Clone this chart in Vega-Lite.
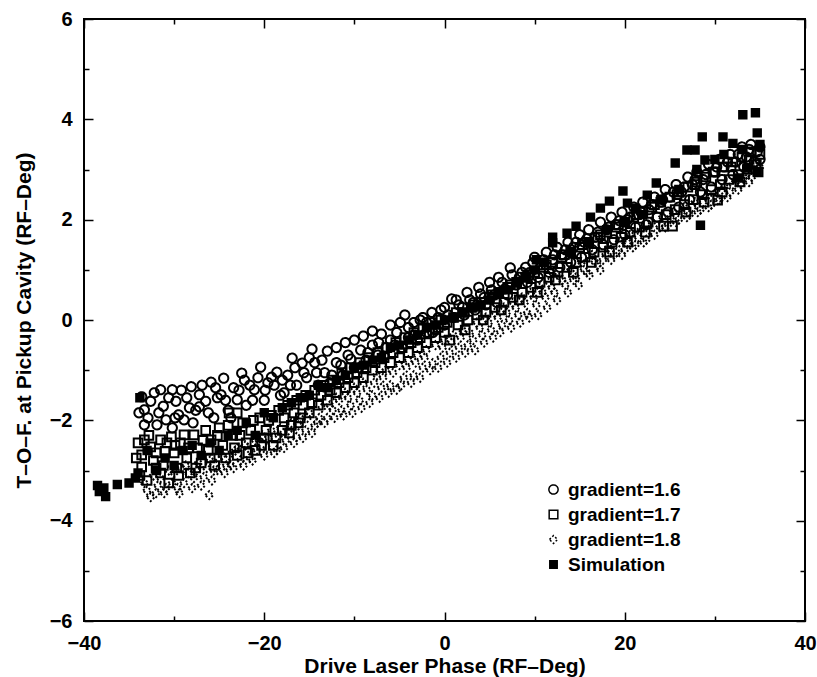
{
  "$schema": "https://vega.github.io/schema/vega-lite/v6.json",
  "autosize": {"type": "none"},
  "width": 721,
  "height": 602,
  "padding": {"left": 84, "top": 19, "right": 12, "bottom": 56},
  "background": "white",
  "config": {
    "view": {"stroke": "black", "strokeWidth": 2},
    "font": "Liberation Sans",
    "axis": {"labelFont": "Liberation Sans", "labelFontSize": 20, "labelFontWeight": "bold", "labelColor": "black", "titleFont": "Liberation Sans", "titleFontSize": 21, "titleFontWeight": "bold", "titleColor": "black", "tickColor": "black", "tickWidth": 1.5, "domain": false, "grid": false, "labelFlush": false, "labelOverlap": false},
    "legend": {"labelFont": "Liberation Sans", "labelFontSize": 19, "labelFontWeight": "bold", "labelColor": "black", "rowPadding": 5, "labelOffset": 5}
  },
  "resolve": {"axis": {"x": "independent", "y": "independent"}},
  "layer": [
    {
      "data": {"values": [
        {"s":"gradient=1.6","x":-33.6,"y":-1.53},{"s":"gradient=1.6","x":-33.3,"y":-1.79},{"s":"gradient=1.6","x":-33.3,"y":-2.09},{"s":"gradient=1.6","x":-32.6,"y":-1.62},{"s":"gradient=1.6","x":-31.9,"y":-2.09},{"s":"gradient=1.6","x":-31.5,"y":-1.39},{"s":"gradient=1.6","x":-31.2,"y":-1.72},{"s":"gradient=1.6","x":-30.9,"y":-1.99},{"s":"gradient=1.6","x":-30.2,"y":-1.39},{"s":"gradient=1.6","x":-30.2,"y":-2.15},{"s":"gradient=1.6","x":-29.8,"y":-1.62},{"s":"gradient=1.6","x":-29.5,"y":-1.89},{"s":"gradient=1.6","x":-28.9,"y":-1.99},{"s":"gradient=1.6","x":-28.6,"y":-1.55},{"s":"gradient=1.6","x":-28.1,"y":-1.33},{"s":"gradient=1.6","x":-27.6,"y":-1.8},{"s":"gradient=1.6","x":-27.2,"y":-1.49},{"s":"gradient=1.6","x":-27.2,"y":-1.73},{"s":"gradient=1.6","x":-26.5,"y":-1.62},{"s":"gradient=1.6","x":-25.9,"y":-1.24},{"s":"gradient=1.6","x":-25.6,"y":-1.95},{"s":"gradient=1.6","x":-25.2,"y":-1.55},{"s":"gradient=1.6","x":-24.8,"y":-1.49},{"s":"gradient=1.6","x":-24.5,"y":-1.16},{"s":"gradient=1.6","x":-24.0,"y":-1.8},{"s":"gradient=1.6","x":-23.4,"y":-1.35},{"s":"gradient=1.6","x":-23.0,"y":-1.59},{"s":"gradient=1.6","x":-22.5,"y":-1.06},{"s":"gradient=1.6","x":-22.0,"y":-1.7},{"s":"gradient=1.6","x":-21.6,"y":-1.3},{"s":"gradient=1.6","x":-21.1,"y":-1.39},{"s":"gradient=1.6","x":-20.4,"y":-0.94},{"s":"gradient=1.6","x":-20.0,"y":-1.6},{"s":"gradient=1.6","x":-19.6,"y":-1.25},{"s":"gradient=1.6","x":-19.2,"y":-1.14},{"s":"gradient=1.6","x":-18.6,"y":-1.04},{"s":"gradient=1.6","x":-18.2,"y":-1.5},{"s":"gradient=1.6","x":-17.8,"y":-1.45},{"s":"gradient=1.6","x":-17.4,"y":-1.1},{"s":"gradient=1.6","x":-16.9,"y":-0.76},{"s":"gradient=1.6","x":-16.4,"y":-1.3},{"s":"gradient=1.6","x":-15.8,"y":-0.86},{"s":"gradient=1.6","x":-15.3,"y":-1.15},{"s":"gradient=1.6","x":-14.7,"y":-0.58},{"s":"gradient=1.6","x":-14.2,"y":-1.05},{"s":"gradient=1.6","x":-13.6,"y":-0.8},{"s":"gradient=1.6","x":-13.0,"y":-0.62},{"s":"gradient=1.6","x":-12.5,"y":-1.1},{"s":"gradient=1.6","x":-12.0,"y":-0.55},{"s":"gradient=1.6","x":-11.5,"y":-0.9},{"s":"gradient=1.6","x":-11.0,"y":-0.45},{"s":"gradient=1.6","x":-10.4,"y":-0.78},{"s":"gradient=1.6","x":-10.0,"y":-0.4},{"s":"gradient=1.6","x":-9.5,"y":-0.95},{"s":"gradient=1.6","x":-9.0,"y":-0.32},{"s":"gradient=1.6","x":-8.5,"y":-0.65},{"s":"gradient=1.6","x":-8.0,"y":-0.22},{"s":"gradient=1.6","x":-7.4,"y":-0.7},{"s":"gradient=1.6","x":-7.0,"y":-0.28},{"s":"gradient=1.6","x":-6.5,"y":-0.55},{"s":"gradient=1.6","x":-6.0,"y":-0.1},{"s":"gradient=1.6","x":-5.5,"y":-0.5},{"s":"gradient=1.6","x":-4.9,"y":-0.05},{"s":"gradient=1.6","x":-4.4,"y":0.1},{"s":"gradient=1.6","x":-4.0,"y":-0.35},{"s":"gradient=1.6","x":-3.4,"y":-0.05},{"s":"gradient=1.6","x":-3.0,"y":-0.4},{"s":"gradient=1.6","x":-2.4,"y":0.05},{"s":"gradient=1.6","x":-2.0,"y":-0.25},{"s":"gradient=1.6","x":-1.4,"y":0.15},{"s":"gradient=1.6","x":-1.0,"y":-0.2},{"s":"gradient=1.6","x":-0.4,"y":0.2},{"s":"gradient=1.6","x":0.0,"y":-0.1},{"s":"gradient=1.6","x":0.8,"y":0.42},{"s":"gradient=1.6","x":1.0,"y":0.05},{"s":"gradient=1.6","x":1.6,"y":0.3},{"s":"gradient=1.6","x":2.2,"y":0.1},{"s":"gradient=1.6","x":2.8,"y":0.4},{"s":"gradient=1.6","x":3.4,"y":0.2},{"s":"gradient=1.6","x":4.0,"y":0.52},{"s":"gradient=1.6","x":4.6,"y":0.3},{"s":"gradient=1.6","x":5.2,"y":0.6},{"s":"gradient=1.6","x":5.8,"y":0.35},{"s":"gradient=1.6","x":6.4,"y":0.75},{"s":"gradient=1.6","x":7.0,"y":0.5},{"s":"gradient=1.6","x":7.3,"y":1.04},{"s":"gradient=1.6","x":8.0,"y":0.7},{"s":"gradient=1.6","x":8.6,"y":0.95},{"s":"gradient=1.6","x":9.2,"y":0.75},{"s":"gradient=1.6","x":9.8,"y":1.14},{"s":"gradient=1.6","x":10.4,"y":0.85},{"s":"gradient=1.6","x":11.0,"y":1.2},{"s":"gradient=1.6","x":11.6,"y":0.95},{"s":"gradient=1.6","x":12.2,"y":1.3},{"s":"gradient=1.6","x":12.8,"y":1.05},{"s":"gradient=1.6","x":13.4,"y":1.4},{"s":"gradient=1.6","x":14.0,"y":1.15},{"s":"gradient=1.6","x":14.6,"y":1.55},{"s":"gradient=1.6","x":15.2,"y":1.25},{"s":"gradient=1.6","x":15.8,"y":1.62},{"s":"gradient=1.6","x":16.4,"y":1.4},{"s":"gradient=1.6","x":17.0,"y":1.75},{"s":"gradient=1.6","x":17.6,"y":1.5},{"s":"gradient=1.6","x":18.2,"y":1.85},{"s":"gradient=1.6","x":18.8,"y":1.6},{"s":"gradient=1.6","x":19.4,"y":1.98},{"s":"gradient=1.6","x":20.0,"y":1.7},{"s":"gradient=1.6","x":20.6,"y":2.05},{"s":"gradient=1.6","x":21.2,"y":1.85},{"s":"gradient=1.6","x":21.8,"y":2.15},{"s":"gradient=1.6","x":22.4,"y":1.9},{"s":"gradient=1.6","x":23.0,"y":2.3},{"s":"gradient=1.6","x":23.6,"y":2.05},{"s":"gradient=1.6","x":24.2,"y":2.4},{"s":"gradient=1.6","x":24.8,"y":2.15},{"s":"gradient=1.6","x":25.4,"y":2.55},{"s":"gradient=1.6","x":26.0,"y":2.25},{"s":"gradient=1.6","x":26.6,"y":2.65},{"s":"gradient=1.6","x":27.2,"y":2.4},{"s":"gradient=1.6","x":27.8,"y":2.8},{"s":"gradient=1.6","x":28.4,"y":2.55},{"s":"gradient=1.6","x":29.0,"y":2.9},{"s":"gradient=1.6","x":29.6,"y":2.65},{"s":"gradient=1.6","x":30.2,"y":3.05},{"s":"gradient=1.6","x":30.8,"y":2.8},{"s":"gradient=1.6","x":31.4,"y":3.15},{"s":"gradient=1.6","x":32.0,"y":2.9},{"s":"gradient=1.6","x":32.6,"y":3.3},{"s":"gradient=1.6","x":33.2,"y":3.05},{"s":"gradient=1.6","x":33.8,"y":3.4},{"s":"gradient=1.6","x":34.4,"y":3.15},{"s":"gradient=1.6","x":35.0,"y":3.45},{"s":"gradient=1.6","x":35.0,"y":3.2},
        {"s":"gradient=1.6","x":-33.9,"y":-1.85},{"s":"gradient=1.6","x":-32.9,"y":-1.95},{"s":"gradient=1.6","x":-32.2,"y":-1.45},{"s":"gradient=1.6","x":-31.7,"y":-1.85},{"s":"gradient=1.6","x":-30.6,"y":-1.55},{"s":"gradient=1.6","x":-29.9,"y":-1.95},{"s":"gradient=1.6","x":-29.2,"y":-1.4},{"s":"gradient=1.6","x":-28.3,"y":-1.75},{"s":"gradient=1.6","x":-27.9,"y":-2.05},{"s":"gradient=1.6","x":-26.9,"y":-1.3},{"s":"gradient=1.6","x":-26.2,"y":-1.85},{"s":"gradient=1.6","x":-25.4,"y":-1.35},{"s":"gradient=1.6","x":-24.3,"y":-1.6},{"s":"gradient=1.6","x":-23.7,"y":-1.95},{"s":"gradient=1.6","x":-22.8,"y":-1.4},{"s":"gradient=1.6","x":-22.2,"y":-1.2},{"s":"gradient=1.6","x":-21.3,"y":-1.6},{"s":"gradient=1.6","x":-20.7,"y":-1.15},{"s":"gradient=1.6","x":-19.9,"y":-1.4},{"s":"gradient=1.6","x":-18.9,"y":-1.3},{"s":"gradient=1.6","x":-18.0,"y":-1.2},{"s":"gradient=1.6","x":-17.1,"y":-1.3},{"s":"gradient=1.6","x":-16.6,"y":-0.95},{"s":"gradient=1.6","x":-15.6,"y":-1.05},{"s":"gradient=1.6","x":-15.0,"y":-0.75},{"s":"gradient=1.6","x":-14.4,"y":-0.85},
        {"s":"gradient=1.6","x":-14.0,"y":-1.3},{"s":"gradient=1.6","x":-13.3,"y":-1.05},{"s":"gradient=1.6","x":-12.7,"y":-1.25},{"s":"gradient=1.6","x":-12.0,"y":-0.85},{"s":"gradient=1.6","x":-11.3,"y":-1.1},{"s":"gradient=1.6","x":-10.7,"y":-0.7},{"s":"gradient=1.6","x":-10.0,"y":-0.95},{"s":"gradient=1.6","x":-9.3,"y":-0.6},{"s":"gradient=1.6","x":-8.7,"y":-0.8},{"s":"gradient=1.6","x":-8.0,"y":-0.5},{"s":"gradient=1.6","x":-7.3,"y":-0.45},{"s":"gradient=1.6","x":-6.7,"y":-0.72},{"s":"gradient=1.6","x":-6.0,"y":-0.4},{"s":"gradient=1.6","x":-5.3,"y":-0.25},{"s":"gradient=1.6","x":-4.7,"y":-0.55},{"s":"gradient=1.6","x":-4.0,"y":-0.15},{"s":"gradient=1.6","x":-3.3,"y":-0.3},{"s":"gradient=1.6","x":-2.7,"y":0.0},{"s":"gradient=1.6","x":-2.0,"y":-0.05},{"s":"gradient=1.6","x":-1.3,"y":-0.25},{"s":"gradient=1.6","x":-0.7,"y":0.05},{"s":"gradient=1.6","x":0.0,"y":0.25},{"s":"gradient=1.6","x":0.4,"y":0.1},{"s":"gradient=1.6","x":1.3,"y":0.4},{"s":"gradient=1.6","x":2.0,"y":0.25},{"s":"gradient=1.6","x":2.5,"y":0.55},{"s":"gradient=1.6","x":3.2,"y":0.35},{"s":"gradient=1.6","x":3.8,"y":0.65},{"s":"gradient=1.6","x":4.4,"y":0.45},{"s":"gradient=1.6","x":5.0,"y":0.75},{"s":"gradient=1.6","x":5.5,"y":0.5},{"s":"gradient=1.6","x":6.0,"y":0.85},{"s":"gradient=1.6","x":6.7,"y":0.62},{"s":"gradient=1.6","x":7.5,"y":0.9},{"s":"gradient=1.6","x":8.3,"y":0.85},{"s":"gradient=1.6","x":9.0,"y":1.05},{"s":"gradient=1.6","x":9.5,"y":0.95},{"s":"gradient=1.6","x":10.0,"y":1.25},{"s":"gradient=1.6","x":10.7,"y":1.1},{"s":"gradient=1.6","x":11.3,"y":1.35},{"s":"gradient=1.6","x":12.0,"y":1.2},{"s":"gradient=1.6","x":12.5,"y":1.45},{"s":"gradient=1.6","x":13.0,"y":1.3},{"s":"gradient=1.6","x":13.7,"y":1.55},{"s":"gradient=1.6","x":14.3,"y":1.45},{"s":"gradient=1.6","x":15.0,"y":1.7},{"s":"gradient=1.6","x":15.5,"y":1.55},{"s":"gradient=1.6","x":16.0,"y":1.8},{"s":"gradient=1.6","x":16.7,"y":1.65},{"s":"gradient=1.6","x":17.3,"y":1.95},{"s":"gradient=1.6","x":18.0,"y":1.8},{"s":"gradient=1.6","x":18.5,"y":2.05},{"s":"gradient=1.6","x":19.0,"y":1.9},{"s":"gradient=1.6","x":19.7,"y":2.15},{"s":"gradient=1.6","x":20.3,"y":2.0},{"s":"gradient=1.6","x":21.0,"y":2.25},{"s":"gradient=1.6","x":21.5,"y":2.1},{"s":"gradient=1.6","x":22.0,"y":2.35},{"s":"gradient=1.6","x":22.7,"y":2.2},{"s":"gradient=1.6","x":23.3,"y":2.45},{"s":"gradient=1.6","x":24.0,"y":2.35},{"s":"gradient=1.6","x":24.5,"y":2.6},{"s":"gradient=1.6","x":25.0,"y":2.45},{"s":"gradient=1.6","x":25.7,"y":2.7},{"s":"gradient=1.6","x":26.3,"y":2.55},{"s":"gradient=1.6","x":27.0,"y":2.85},{"s":"gradient=1.6","x":27.5,"y":2.7},{"s":"gradient=1.6","x":28.0,"y":2.95},{"s":"gradient=1.6","x":28.7,"y":2.8},{"s":"gradient=1.6","x":29.3,"y":3.1},{"s":"gradient=1.6","x":30.0,"y":2.95},{"s":"gradient=1.6","x":30.5,"y":3.2},{"s":"gradient=1.6","x":31.0,"y":3.05},{"s":"gradient=1.6","x":31.7,"y":3.3},{"s":"gradient=1.6","x":32.3,"y":3.15},{"s":"gradient=1.6","x":33.0,"y":3.45},{"s":"gradient=1.6","x":33.5,"y":3.25},{"s":"gradient=1.6","x":34.0,"y":3.5},{"s":"gradient=1.6","x":34.7,"y":3.35},
        {"s":"gradient=1.7","x":-34.0,"y":-2.45},{"s":"gradient=1.7","x":-33.6,"y":-2.69},{"s":"gradient=1.7","x":-33.6,"y":-2.93},{"s":"gradient=1.7","x":-33.3,"y":-2.39},{"s":"gradient=1.7","x":-33.0,"y":-3.2},{"s":"gradient=1.7","x":-32.6,"y":-2.53},{"s":"gradient=1.7","x":-32.3,"y":-2.8},{"s":"gradient=1.7","x":-32.0,"y":-2.95},{"s":"gradient=1.7","x":-31.5,"y":-2.39},{"s":"gradient=1.7","x":-31.5,"y":-3.05},{"s":"gradient=1.7","x":-31.0,"y":-2.62},{"s":"gradient=1.7","x":-30.6,"y":-3.25},{"s":"gradient=1.7","x":-30.3,"y":-2.33},{"s":"gradient=1.7","x":-30.0,"y":-2.65},{"s":"gradient=1.7","x":-29.7,"y":-2.95},{"s":"gradient=1.7","x":-29.3,"y":-2.45},{"s":"gradient=1.7","x":-28.9,"y":-2.29},{"s":"gradient=1.7","x":-28.6,"y":-2.75},{"s":"gradient=1.7","x":-28.2,"y":-3.05},{"s":"gradient=1.7","x":-27.8,"y":-2.29},{"s":"gradient=1.7","x":-27.4,"y":-2.55},{"s":"gradient=1.7","x":-27.0,"y":-2.85},{"s":"gradient=1.7","x":-26.5,"y":-2.2},{"s":"gradient=1.7","x":-26.2,"y":-2.6},{"s":"gradient=1.7","x":-25.9,"y":-2.39},{"s":"gradient=1.7","x":-25.5,"y":-2.9},{"s":"gradient=1.7","x":-25.0,"y":-2.15},{"s":"gradient=1.7","x":-24.6,"y":-2.5},{"s":"gradient=1.7","x":-23.9,"y":-1.85},{"s":"gradient=1.7","x":-23.0,"y":-1.85},{"s":"gradient=1.7","x":-23.5,"y":-2.3},{"s":"gradient=1.7","x":-23.0,"y":-2.7},{"s":"gradient=1.7","x":-22.4,"y":-2.05},{"s":"gradient=1.7","x":-22.0,"y":-2.45},{"s":"gradient=1.7","x":-21.5,"y":-2.2},{"s":"gradient=1.7","x":-21.0,"y":-2.6},{"s":"gradient=1.7","x":-20.5,"y":-1.95},{"s":"gradient=1.7","x":-20.0,"y":-2.35},{"s":"gradient=1.7","x":-19.5,"y":-2.0},{"s":"gradient=1.7","x":-19.0,"y":-2.5},{"s":"gradient=1.7","x":-18.4,"y":-1.8},{"s":"gradient=1.7","x":-18.0,"y":-2.2},{"s":"gradient=1.7","x":-17.4,"y":-1.7},{"s":"gradient=1.7","x":-17.0,"y":-2.1},{"s":"gradient=1.7","x":-16.4,"y":-1.6},{"s":"gradient=1.7","x":-16.0,"y":-1.95},{"s":"gradient=1.7","x":-15.4,"y":-1.5},{"s":"gradient=1.7","x":-15.0,"y":-1.85},{"s":"gradient=1.7","x":-14.4,"y":-1.4},{"s":"gradient=1.7","x":-14.0,"y":-1.7},{"s":"gradient=1.7","x":-13.4,"y":-1.3},{"s":"gradient=1.7","x":-13.0,"y":-1.6},{"s":"gradient=1.7","x":-12.4,"y":-1.2},{"s":"gradient=1.7","x":-12.0,"y":-1.45},{"s":"gradient=1.7","x":-11.4,"y":-1.05},{"s":"gradient=1.7","x":-11.0,"y":-1.35},{"s":"gradient=1.7","x":-10.4,"y":-0.95},{"s":"gradient=1.7","x":-10.0,"y":-1.25},{"s":"gradient=1.7","x":-9.4,"y":-0.85},{"s":"gradient=1.7","x":-9.0,"y":-1.15},{"s":"gradient=1.7","x":-8.4,"y":-0.75},{"s":"gradient=1.7","x":-8.0,"y":-1.0},{"s":"gradient=1.7","x":-7.4,"y":-0.65},{"s":"gradient=1.7","x":-7.0,"y":-0.95},{"s":"gradient=1.7","x":-6.4,"y":-0.55},{"s":"gradient=1.7","x":-6.0,"y":-0.85},{"s":"gradient=1.7","x":-5.4,"y":-0.45},{"s":"gradient=1.7","x":-5.0,"y":-0.75},{"s":"gradient=1.7","x":-4.4,"y":-0.35},{"s":"gradient=1.7","x":-4.0,"y":-0.65},{"s":"gradient=1.7","x":-3.4,"y":-0.25},{"s":"gradient=1.7","x":-3.0,"y":-0.55},{"s":"gradient=1.7","x":-2.4,"y":-0.15},{"s":"gradient=1.7","x":-2.0,"y":-0.45},{"s":"gradient=1.7","x":-1.4,"y":-0.05},{"s":"gradient=1.7","x":-1.0,"y":-0.35},{"s":"gradient=1.7","x":-0.4,"y":0.0},{"s":"gradient=1.7","x":0.0,"y":-0.25},{"s":"gradient=1.7","x":1.0,"y":0.05},{"s":"gradient=1.7","x":1.5,"y":-0.1},{"s":"gradient=1.7","x":2.0,"y":0.15},{"s":"gradient=1.7","x":2.6,"y":0.0},{"s":"gradient=1.7","x":3.0,"y":0.25},{"s":"gradient=1.7","x":3.6,"y":0.1},{"s":"gradient=1.7","x":4.0,"y":0.35},{"s":"gradient=1.7","x":4.6,"y":0.15},{"s":"gradient=1.7","x":5.0,"y":0.45},{"s":"gradient=1.7","x":5.6,"y":0.25},{"s":"gradient=1.7","x":6.0,"y":0.55},{"s":"gradient=1.7","x":6.6,"y":0.35},{"s":"gradient=1.7","x":7.0,"y":0.65},{"s":"gradient=1.7","x":7.6,"y":0.45},{"s":"gradient=1.7","x":8.0,"y":0.75},{"s":"gradient=1.7","x":8.6,"y":0.55},{"s":"gradient=1.7","x":9.0,"y":0.85},{"s":"gradient=1.7","x":9.6,"y":0.65},{"s":"gradient=1.7","x":10.0,"y":0.95},{"s":"gradient=1.7","x":10.6,"y":0.75},{"s":"gradient=1.7","x":11.0,"y":1.05},{"s":"gradient=1.7","x":11.6,"y":0.85},{"s":"gradient=1.7","x":12.0,"y":1.15},{"s":"gradient=1.7","x":12.6,"y":0.95},{"s":"gradient=1.7","x":13.0,"y":1.25},{"s":"gradient=1.7","x":13.6,"y":1.05},{"s":"gradient=1.7","x":14.0,"y":1.35},{"s":"gradient=1.7","x":14.6,"y":1.15},{"s":"gradient=1.7","x":15.0,"y":1.45},{"s":"gradient=1.7","x":15.6,"y":1.25},{"s":"gradient=1.7","x":16.0,"y":1.55},{"s":"gradient=1.7","x":16.6,"y":1.35},{"s":"gradient=1.7","x":17.0,"y":1.65},{"s":"gradient=1.7","x":17.6,"y":1.45},{"s":"gradient=1.7","x":18.0,"y":1.75},{"s":"gradient=1.7","x":18.6,"y":1.55},{"s":"gradient=1.7","x":19.0,"y":1.85},{"s":"gradient=1.7","x":19.6,"y":1.65},{"s":"gradient=1.7","x":20.0,"y":1.95},{"s":"gradient=1.7","x":20.6,"y":1.75},{"s":"gradient=1.7","x":21.0,"y":2.05},{"s":"gradient=1.7","x":21.6,"y":1.85},{"s":"gradient=1.7","x":22.0,"y":2.15},{"s":"gradient=1.7","x":22.6,"y":1.95},{"s":"gradient=1.7","x":23.0,"y":2.25},{"s":"gradient=1.7","x":23.6,"y":2.05},{"s":"gradient=1.7","x":24.3,"y":1.87},{"s":"gradient=1.7","x":25.3,"y":1.87},{"s":"gradient=1.7","x":24.0,"y":2.35},{"s":"gradient=1.7","x":25.0,"y":2.45},{"s":"gradient=1.7","x":25.6,"y":2.2},{"s":"gradient=1.7","x":26.0,"y":2.55},{"s":"gradient=1.7","x":26.6,"y":2.3},{"s":"gradient=1.7","x":27.0,"y":2.65},{"s":"gradient=1.7","x":27.6,"y":2.4},{"s":"gradient=1.7","x":28.0,"y":2.75},{"s":"gradient=1.7","x":28.6,"y":2.5},{"s":"gradient=1.7","x":29.0,"y":2.85},{"s":"gradient=1.7","x":29.6,"y":2.6},{"s":"gradient=1.7","x":30.0,"y":2.95},{"s":"gradient=1.7","x":30.3,"y":2.39},{"s":"gradient=1.7","x":30.6,"y":2.7},{"s":"gradient=1.7","x":31.0,"y":3.05},{"s":"gradient=1.7","x":31.6,"y":2.8},{"s":"gradient=1.7","x":32.0,"y":3.15},{"s":"gradient=1.7","x":32.6,"y":2.9},{"s":"gradient=1.7","x":33.0,"y":3.25},{"s":"gradient=1.7","x":33.6,"y":3.0},{"s":"gradient=1.7","x":34.0,"y":3.35},{"s":"gradient=1.7","x":34.6,"y":3.1},{"s":"gradient=1.7","x":35.0,"y":3.3},
        {"s":"gradient=1.7","x":-34.2,"y":-2.75},{"s":"gradient=1.7","x":-33.8,"y":-3.1},{"s":"gradient=1.7","x":-32.8,"y":-2.3},{"s":"gradient=1.7","x":-32.0,"y":-2.65},{"s":"gradient=1.7","x":-31.2,"y":-2.9},{"s":"gradient=1.7","x":-30.8,"y":-2.45},{"s":"gradient=1.7","x":-29.9,"y":-2.5},{"s":"gradient=1.7","x":-29.5,"y":-3.1},{"s":"gradient=1.7","x":-28.4,"y":-2.55},{"s":"gradient=1.7","x":-27.6,"y":-2.95},{"s":"gradient=1.7","x":-26.8,"y":-2.4},{"s":"gradient=1.7","x":-26.0,"y":-2.75},{"s":"gradient=1.7","x":-25.2,"y":-2.3},{"s":"gradient=1.7","x":-24.3,"y":-2.75},{"s":"gradient=1.7","x":-24.0,"y":-2.1},{"s":"gradient=1.7","x":-23.3,"y":-2.55},{"s":"gradient=1.7","x":-22.7,"y":-2.3},{"s":"gradient=1.7","x":-21.8,"y":-2.65},{"s":"gradient=1.7","x":-21.2,"y":-2.0},{"s":"gradient=1.7","x":-20.3,"y":-2.5},{"s":"gradient=1.7","x":-19.8,"y":-2.2},{"s":"gradient=1.7","x":-19.2,"y":-1.9},{"s":"gradient=1.7","x":-18.7,"y":-2.35},{"s":"gradient=1.7","x":-17.8,"y":-1.95},{"s":"gradient=1.7","x":-17.2,"y":-2.25},{"s":"gradient=1.7","x":-16.7,"y":-1.85},{"s":"gradient=1.7","x":-16.2,"y":-2.05},{"s":"gradient=1.7","x":-15.7,"y":-1.7},{"s":"gradient=1.7","x":-14.7,"y":-1.65},{"s":"gradient=1.7","x":-13.7,"y":-1.5},{"s":"gradient=1.7","x":-12.7,"y":-1.4},{"s":"gradient=1.7","x":-11.7,"y":-1.25},{"s":"gradient=1.7","x":-10.7,"y":-1.15},{"s":"gradient=1.7","x":-9.7,"y":-1.05},{"s":"gradient=1.7","x":-8.7,"y":-0.95},{"s":"gradient=1.7","x":-7.7,"y":-0.85},{"s":"gradient=1.7","x":-6.7,"y":-0.75},{"s":"gradient=1.7","x":-5.7,"y":-0.65},{"s":"gradient=1.7","x":-4.7,"y":-0.55},{"s":"gradient=1.7","x":-3.7,"y":-0.45},{"s":"gradient=1.7","x":-2.7,"y":-0.35},{"s":"gradient=1.7","x":-1.7,"y":-0.25},{"s":"gradient=1.7","x":-0.7,"y":-0.15},{"s":"gradient=1.7","x":0.3,"y":-0.05},{"s":"gradient=1.7","x":0.6,"y":-0.4},{"s":"gradient=1.7","x":1.3,"y":0.15},{"s":"gradient=1.7","x":2.3,"y":-0.2},{"s":"gradient=1.7","x":3.3,"y":0.3},{"s":"gradient=1.7","x":4.3,"y":0.0},{"s":"gradient=1.7","x":5.3,"y":0.5},{"s":"gradient=1.7","x":6.3,"y":0.2},{"s":"gradient=1.7","x":7.3,"y":0.7},{"s":"gradient=1.7","x":8.3,"y":0.4},{"s":"gradient=1.7","x":9.3,"y":0.9},{"s":"gradient=1.7","x":10.3,"y":0.55},{"s":"gradient=1.7","x":11.3,"y":1.1},{"s":"gradient=1.7","x":12.3,"y":0.8},{"s":"gradient=1.7","x":13.3,"y":1.3},{"s":"gradient=1.7","x":14.3,"y":0.95},{"s":"gradient=1.7","x":15.3,"y":1.5},{"s":"gradient=1.7","x":16.3,"y":1.15},{"s":"gradient=1.7","x":17.3,"y":1.7},{"s":"gradient=1.7","x":18.3,"y":1.35},{"s":"gradient=1.7","x":19.3,"y":1.9},{"s":"gradient=1.7","x":20.3,"y":1.55},{"s":"gradient=1.7","x":21.3,"y":2.1},{"s":"gradient=1.7","x":22.3,"y":1.75},{"s":"gradient=1.7","x":23.3,"y":2.3},{"s":"gradient=1.7","x":24.6,"y":2.1},{"s":"gradient=1.7","x":25.8,"y":2.5},{"s":"gradient=1.7","x":26.8,"y":2.15},{"s":"gradient=1.7","x":27.8,"y":2.7},{"s":"gradient=1.7","x":28.8,"y":2.35},{"s":"gradient=1.7","x":29.8,"y":2.95},{"s":"gradient=1.7","x":30.8,"y":2.55},{"s":"gradient=1.7","x":31.8,"y":3.05},{"s":"gradient=1.7","x":32.8,"y":2.75},{"s":"gradient=1.7","x":33.8,"y":3.2},{"s":"gradient=1.7","x":34.8,"y":2.95},
        {"s":"gradient=1.8","x":-33.0,"y":-3.4},{"s":"gradient=1.8","x":-32.6,"y":-3.53},{"s":"gradient=1.8","x":-32.3,"y":-3.1},{"s":"gradient=1.8","x":-31.8,"y":-3.3},{"s":"gradient=1.8","x":-31.1,"y":-3.45},{"s":"gradient=1.8","x":-30.6,"y":-3.0},{"s":"gradient=1.8","x":-30.2,"y":-3.25},{"s":"gradient=1.8","x":-29.6,"y":-3.35},{"s":"gradient=1.8","x":-29.2,"y":-2.95},{"s":"gradient=1.8","x":-28.9,"y":-3.25},{"s":"gradient=1.8","x":-28.4,"y":-3.05},{"s":"gradient=1.8","x":-27.8,"y":-3.15},{"s":"gradient=1.8","x":-27.3,"y":-2.85},{"s":"gradient=1.8","x":-26.7,"y":-3.13},{"s":"gradient=1.8","x":-26.1,"y":-3.49},{"s":"gradient=1.8","x":-26.0,"y":-2.8},{"s":"gradient=1.8","x":-25.6,"y":-3.0},{"s":"gradient=1.8","x":-25.2,"y":-2.99},{"s":"gradient=1.8","x":-24.7,"y":-2.7},{"s":"gradient=1.8","x":-24.2,"y":-2.9},{"s":"gradient=1.8","x":-23.7,"y":-2.89},{"s":"gradient=1.8","x":-23.2,"y":-2.6},{"s":"gradient=1.8","x":-22.6,"y":-2.79},{"s":"gradient=1.8","x":-22.1,"y":-2.5},{"s":"gradient=1.8","x":-21.6,"y":-2.75},{"s":"gradient=1.8","x":-21.0,"y":-2.4},{"s":"gradient=1.8","x":-20.8,"y":-2.59},{"s":"gradient=1.8","x":-20.2,"y":-2.3},{"s":"gradient=1.8","x":-19.7,"y":-2.55},{"s":"gradient=1.8","x":-19.2,"y":-2.2},{"s":"gradient=1.8","x":-18.6,"y":-2.59},{"s":"gradient=1.8","x":-18.2,"y":-2.15},{"s":"gradient=1.8","x":-17.6,"y":-2.4},{"s":"gradient=1.8","x":-17.0,"y":-2.05},{"s":"gradient=1.8","x":-16.4,"y":-2.33},{"s":"gradient=1.8","x":-16.0,"y":-1.95},{"s":"gradient=1.8","x":-15.4,"y":-2.2},{"s":"gradient=1.8","x":-15.0,"y":-1.85},{"s":"gradient=1.8","x":-14.4,"y":-2.1},{"s":"gradient=1.8","x":-14.1,"y":-2.05},{"s":"gradient=1.8","x":-13.6,"y":-1.75},{"s":"gradient=1.8","x":-13.0,"y":-1.95},{"s":"gradient=1.8","x":-12.4,"y":-1.79},{"s":"gradient=1.8","x":-12.0,"y":-1.55},{"s":"gradient=1.8","x":-11.4,"y":-1.8},{"s":"gradient=1.8","x":-11.0,"y":-1.45},{"s":"gradient=1.8","x":-10.4,"y":-1.7},{"s":"gradient=1.8","x":-10.0,"y":-1.35},{"s":"gradient=1.8","x":-9.4,"y":-1.6},{"s":"gradient=1.8","x":-9.0,"y":-1.25},{"s":"gradient=1.8","x":-8.6,"y":-1.39},{"s":"gradient=1.8","x":-8.0,"y":-1.5},{"s":"gradient=1.8","x":-7.5,"y":-1.1},{"s":"gradient=1.8","x":-7.0,"y":-1.35},{"s":"gradient=1.8","x":-6.5,"y":-1.0},{"s":"gradient=1.8","x":-6.0,"y":-1.3},{"s":"gradient=1.8","x":-5.3,"y":-1.39},{"s":"gradient=1.8","x":-5.0,"y":-0.9},{"s":"gradient=1.8","x":-4.5,"y":-1.15},{"s":"gradient=1.8","x":-4.0,"y":-0.8},{"s":"gradient=1.8","x":-3.4,"y":-1.1},{"s":"gradient=1.8","x":-3.0,"y":-0.7},{"s":"gradient=1.8","x":-2.4,"y":-0.95},{"s":"gradient=1.8","x":-2.0,"y":-0.6},{"s":"gradient=1.8","x":-1.3,"y":-0.86},{"s":"gradient=1.8","x":-1.0,"y":-0.5},{"s":"gradient=1.8","x":-0.4,"y":-0.75},{"s":"gradient=1.8","x":0.0,"y":-0.4},{"s":"gradient=1.8","x":0.6,"y":-0.65},{"s":"gradient=1.8","x":1.0,"y":-0.3},{"s":"gradient=1.8","x":1.6,"y":-0.55},{"s":"gradient=1.8","x":2.0,"y":-0.2},{"s":"gradient=1.8","x":2.6,"y":-0.5},{"s":"gradient=1.8","x":3.2,"y":-0.4},{"s":"gradient=1.8","x":3.6,"y":-0.05},{"s":"gradient=1.8","x":4.2,"y":-0.3},{"s":"gradient=1.8","x":4.6,"y":0.05},{"s":"gradient=1.8","x":5.2,"y":-0.2},{"s":"gradient=1.8","x":5.6,"y":0.15},{"s":"gradient=1.8","x":6.2,"y":-0.24},{"s":"gradient=1.8","x":6.6,"y":0.25},{"s":"gradient=1.8","x":7.2,"y":0.0},{"s":"gradient=1.8","x":7.6,"y":0.35},{"s":"gradient=1.8","x":8.2,"y":0.1},{"s":"gradient=1.8","x":8.6,"y":0.45},{"s":"gradient=1.8","x":9.2,"y":0.14},{"s":"gradient=1.8","x":9.6,"y":0.55},{"s":"gradient=1.8","x":10.2,"y":0.3},{"s":"gradient=1.8","x":10.6,"y":0.65},{"s":"gradient=1.8","x":11.2,"y":0.45},{"s":"gradient=1.8","x":11.6,"y":0.75},{"s":"gradient=1.8","x":12.0,"y":0.94},{"s":"gradient=1.8","x":12.2,"y":0.55},{"s":"gradient=1.8","x":12.8,"y":0.85},{"s":"gradient=1.8","x":13.4,"y":0.7},{"s":"gradient=1.8","x":14.0,"y":1.0},{"s":"gradient=1.8","x":14.6,"y":0.85},{"s":"gradient=1.8","x":15.2,"y":1.15},{"s":"gradient=1.8","x":15.8,"y":0.95},{"s":"gradient=1.8","x":16.4,"y":1.3},{"s":"gradient=1.8","x":17.0,"y":1.1},{"s":"gradient=1.8","x":17.6,"y":1.2},{"s":"gradient=1.8","x":18.2,"y":1.45},{"s":"gradient=1.8","x":18.8,"y":1.3},{"s":"gradient=1.8","x":19.4,"y":1.55},{"s":"gradient=1.8","x":20.0,"y":1.4},{"s":"gradient=1.8","x":20.6,"y":1.7},{"s":"gradient=1.8","x":21.2,"y":1.5},{"s":"gradient=1.8","x":21.8,"y":1.8},{"s":"gradient=1.8","x":22.4,"y":1.6},{"s":"gradient=1.8","x":23.0,"y":1.95},{"s":"gradient=1.8","x":23.9,"y":1.85},{"s":"gradient=1.8","x":24.2,"y":2.05},{"s":"gradient=1.8","x":24.8,"y":1.9},{"s":"gradient=1.8","x":25.4,"y":2.15},{"s":"gradient=1.8","x":26.0,"y":2.0},{"s":"gradient=1.8","x":26.6,"y":2.25},{"s":"gradient=1.8","x":27.2,"y":2.1},{"s":"gradient=1.8","x":27.8,"y":2.35},{"s":"gradient=1.8","x":28.4,"y":2.2},{"s":"gradient=1.8","x":29.0,"y":2.45},{"s":"gradient=1.8","x":29.6,"y":2.3},{"s":"gradient=1.8","x":30.3,"y":2.39},{"s":"gradient=1.8","x":30.8,"y":2.6},{"s":"gradient=1.8","x":31.4,"y":2.45},{"s":"gradient=1.8","x":32.0,"y":2.7},{"s":"gradient=1.8","x":32.6,"y":2.6},{"s":"gradient=1.8","x":33.2,"y":2.85},{"s":"gradient=1.8","x":33.8,"y":2.75},{"s":"gradient=1.8","x":34.4,"y":2.95},{"s":"gradient=1.8","x":35.0,"y":3.05},
        {"s":"gradient=1.8","x":-33.3,"y":-3.25},{"s":"gradient=1.8","x":-32.0,"y":-3.45},{"s":"gradient=1.8","x":-31.5,"y":-3.15},{"s":"gradient=1.8","x":-30.9,"y":-3.35},{"s":"gradient=1.8","x":-30.0,"y":-3.05},{"s":"gradient=1.8","x":-29.4,"y":-3.45},{"s":"gradient=1.8","x":-28.7,"y":-2.9},{"s":"gradient=1.8","x":-28.0,"y":-3.35},{"s":"gradient=1.8","x":-27.5,"y":-3.0},{"s":"gradient=1.8","x":-27.0,"y":-3.3},{"s":"gradient=1.8","x":-26.4,"y":-2.95},{"s":"gradient=1.8","x":-25.8,"y":-3.2},{"s":"gradient=1.8","x":-25.0,"y":-2.8},{"s":"gradient=1.8","x":-24.4,"y":-3.05},{"s":"gradient=1.8","x":-23.9,"y":-2.7},{"s":"gradient=1.8","x":-23.4,"y":-2.95},{"s":"gradient=1.8","x":-22.9,"y":-2.55},{"s":"gradient=1.8","x":-22.3,"y":-2.9},{"s":"gradient=1.8","x":-21.8,"y":-2.55},{"s":"gradient=1.8","x":-21.3,"y":-2.8},{"s":"gradient=1.8","x":-20.6,"y":-2.4},{"s":"gradient=1.8","x":-20.0,"y":-2.7},{"s":"gradient=1.8","x":-19.5,"y":-2.35},{"s":"gradient=1.8","x":-18.9,"y":-2.65},{"s":"gradient=1.8","x":-18.4,"y":-2.3},{"s":"gradient=1.8","x":-17.8,"y":-2.55},{"s":"gradient=1.8","x":-17.3,"y":-2.2},{"s":"gradient=1.8","x":-16.7,"y":-2.45},{"s":"gradient=1.8","x":-16.2,"y":-2.1},{"s":"gradient=1.8","x":-15.7,"y":-2.35},{"s":"gradient=1.8","x":-15.2,"y":-1.95},{"s":"gradient=1.8","x":-14.7,"y":-2.25},{"s":"gradient=1.8","x":-13.9,"y":-1.95},{"s":"gradient=1.8","x":-13.3,"y":-2.05},{"s":"gradient=1.8","x":-12.7,"y":-1.7},{"s":"gradient=1.8","x":-12.2,"y":-1.95},{"s":"gradient=1.8","x":-11.7,"y":-1.6},{"s":"gradient=1.8","x":-11.2,"y":-1.9},{"s":"gradient=1.8","x":-10.7,"y":-1.55},{"s":"gradient=1.8","x":-10.2,"y":-1.85},{"s":"gradient=1.8","x":-9.7,"y":-1.45},{"s":"gradient=1.8","x":-9.2,"y":-1.75},{"s":"gradient=1.8","x":-8.3,"y":-1.65},{"s":"gradient=1.8","x":-7.8,"y":-1.25},{"s":"gradient=1.8","x":-7.2,"y":-1.55},{"s":"gradient=1.8","x":-6.8,"y":-1.15},{"s":"gradient=1.8","x":-6.2,"y":-1.45},{"s":"gradient=1.8","x":-5.7,"y":-1.05},{"s":"gradient=1.8","x":-4.8,"y":-1.3},{"s":"gradient=1.8","x":-4.2,"y":-0.95},{"s":"gradient=1.8","x":-3.7,"y":-1.25},{"s":"gradient=1.8","x":-3.2,"y":-0.85},{"s":"gradient=1.8","x":-2.7,"y":-1.15},{"s":"gradient=1.8","x":-2.2,"y":-0.75},{"s":"gradient=1.8","x":-1.6,"y":-1.0},{"s":"gradient=1.8","x":-0.7,"y":-0.95},{"s":"gradient=1.8","x":-0.2,"y":-0.55},{"s":"gradient=1.8","x":0.3,"y":-0.85},{"s":"gradient=1.8","x":0.8,"y":-0.45},{"s":"gradient=1.8","x":1.3,"y":-0.75},{"s":"gradient=1.8","x":1.8,"y":-0.35},{"s":"gradient=1.8","x":2.3,"y":-0.65},{"s":"gradient=1.8","x":2.8,"y":-0.25},{"s":"gradient=1.8","x":3.4,"y":-0.6},{"s":"gradient=1.8","x":3.9,"y":-0.15},{"s":"gradient=1.8","x":4.4,"y":-0.45},{"s":"gradient=1.8","x":4.9,"y":-0.05},{"s":"gradient=1.8","x":5.4,"y":-0.35},{"s":"gradient=1.8","x":5.9,"y":0.05},{"s":"gradient=1.8","x":6.4,"y":-0.1},{"s":"gradient=1.8","x":6.9,"y":0.15},{"s":"gradient=1.8","x":7.4,"y":-0.15},{"s":"gradient=1.8","x":7.9,"y":0.25},{"s":"gradient=1.8","x":8.4,"y":-0.05},{"s":"gradient=1.8","x":8.9,"y":0.35},{"s":"gradient=1.8","x":9.4,"y":0.05},{"s":"gradient=1.8","x":9.9,"y":0.45},{"s":"gradient=1.8","x":10.4,"y":0.1},{"s":"gradient=1.8","x":10.9,"y":0.55},{"s":"gradient=1.8","x":11.4,"y":0.25},{"s":"gradient=1.8","x":11.9,"y":0.65},{"s":"gradient=1.8","x":12.5,"y":0.4},{"s":"gradient=1.8","x":13.1,"y":0.8},{"s":"gradient=1.8","x":13.7,"y":0.55},{"s":"gradient=1.8","x":14.3,"y":0.8},{"s":"gradient=1.8","x":14.9,"y":0.7},{"s":"gradient=1.8","x":15.5,"y":1.0},{"s":"gradient=1.8","x":16.1,"y":0.9},{"s":"gradient=1.8","x":16.7,"y":1.15},{"s":"gradient=1.8","x":17.3,"y":1.0},{"s":"gradient=1.8","x":17.9,"y":1.3},{"s":"gradient=1.8","x":18.5,"y":1.2},{"s":"gradient=1.8","x":19.1,"y":1.35},{"s":"gradient=1.8","x":19.7,"y":1.3},{"s":"gradient=1.8","x":20.3,"y":1.55},{"s":"gradient=1.8","x":20.9,"y":1.45},{"s":"gradient=1.8","x":21.5,"y":1.65},{"s":"gradient=1.8","x":22.1,"y":1.55},{"s":"gradient=1.8","x":22.7,"y":1.8},{"s":"gradient=1.8","x":23.3,"y":1.7},{"s":"gradient=1.8","x":24.5,"y":1.85},{"s":"gradient=1.8","x":25.1,"y":2.05},{"s":"gradient=1.8","x":25.7,"y":1.95},{"s":"gradient=1.8","x":26.3,"y":2.15},{"s":"gradient=1.8","x":26.9,"y":2.05},{"s":"gradient=1.8","x":27.5,"y":2.25},{"s":"gradient=1.8","x":28.1,"y":2.15},{"s":"gradient=1.8","x":28.7,"y":2.35},{"s":"gradient=1.8","x":29.3,"y":2.25},{"s":"gradient=1.8","x":29.9,"y":2.5},{"s":"gradient=1.8","x":30.5,"y":2.4},{"s":"gradient=1.8","x":31.1,"y":2.65},{"s":"gradient=1.8","x":31.7,"y":2.55},{"s":"gradient=1.8","x":32.3,"y":2.75},{"s":"gradient=1.8","x":32.9,"y":2.7},{"s":"gradient=1.8","x":33.5,"y":2.9},{"s":"gradient=1.8","x":34.1,"y":2.85},{"s":"gradient=1.8","x":34.7,"y":3.05},
        {"s":"Simulation","x":-38.5,"y":-3.3},{"s":"Simulation","x":-38.3,"y":-3.42},{"s":"Simulation","x":-37.8,"y":-3.35},{"s":"Simulation","x":-37.6,"y":-3.52},{"s":"Simulation","x":-36.3,"y":-3.28},{"s":"Simulation","x":-35.0,"y":-3.25},{"s":"Simulation","x":-34.3,"y":-3.15},{"s":"Simulation","x":-34.0,"y":-3.05},{"s":"Simulation","x":-33.8,"y":-1.55},{"s":"Simulation","x":-33.0,"y":-2.6},{"s":"Simulation","x":-32.0,"y":-3.0},{"s":"Simulation","x":-31.0,"y":-2.75},{"s":"Simulation","x":-30.0,"y":-2.9},{"s":"Simulation","x":-29.0,"y":-2.6},{"s":"Simulation","x":-28.0,"y":-2.5},{"s":"Simulation","x":-27.0,"y":-2.7},{"s":"Simulation","x":-26.0,"y":-2.45},{"s":"Simulation","x":-25.0,"y":-2.6},{"s":"Simulation","x":-24.0,"y":-2.3},{"s":"Simulation","x":-23.0,"y":-2.2},{"s":"Simulation","x":-22.0,"y":-2.05},{"s":"Simulation","x":-21.0,"y":-2.3},{"s":"Simulation","x":-20.0,"y":-1.85},{"s":"Simulation","x":-19.0,"y":-1.95},{"s":"Simulation","x":-18.0,"y":-1.75},{"s":"Simulation","x":-17.0,"y":-1.65},{"s":"Simulation","x":-16.0,"y":-1.55},{"s":"Simulation","x":-15.0,"y":-1.5},{"s":"Simulation","x":-14.0,"y":-1.3},{"s":"Simulation","x":-13.0,"y":-1.35},{"s":"Simulation","x":-12.0,"y":-1.2},{"s":"Simulation","x":-11.0,"y":-1.1},{"s":"Simulation","x":-10.0,"y":-0.95},{"s":"Simulation","x":-9.0,"y":-0.9},{"s":"Simulation","x":-8.0,"y":-0.8},{"s":"Simulation","x":-7.0,"y":-0.75},{"s":"Simulation","x":-6.0,"y":-0.55},{"s":"Simulation","x":-5.0,"y":-0.5},{"s":"Simulation","x":-4.0,"y":-0.4},{"s":"Simulation","x":-3.0,"y":-0.3},{"s":"Simulation","x":-2.0,"y":-0.15},{"s":"Simulation","x":-1.0,"y":-0.1},{"s":"Simulation","x":0.0,"y":0.0},{"s":"Simulation","x":1.0,"y":0.05},{"s":"Simulation","x":2.0,"y":0.15},{"s":"Simulation","x":3.0,"y":0.25},{"s":"Simulation","x":4.0,"y":0.3},{"s":"Simulation","x":5.0,"y":0.4},{"s":"Simulation","x":6.0,"y":0.55},{"s":"Simulation","x":7.0,"y":0.6},{"s":"Simulation","x":8.0,"y":0.75},{"s":"Simulation","x":9.0,"y":0.85},{"s":"Simulation","x":10.0,"y":1.0},{"s":"Simulation","x":10.2,"y":1.2},{"s":"Simulation","x":11.0,"y":1.15},{"s":"Simulation","x":12.0,"y":1.54},{"s":"Simulation","x":12.0,"y":1.65},{"s":"Simulation","x":13.6,"y":1.73},{"s":"Simulation","x":14.0,"y":1.35},{"s":"Simulation","x":14.6,"y":1.87},{"s":"Simulation","x":16.0,"y":1.55},{"s":"Simulation","x":16.2,"y":2.05},{"s":"Simulation","x":17.3,"y":2.23},{"s":"Simulation","x":18.0,"y":1.8},{"s":"Simulation","x":18.3,"y":2.37},{"s":"Simulation","x":19.8,"y":2.57},{"s":"Simulation","x":20.0,"y":1.95},{"s":"Simulation","x":20.3,"y":2.33},{"s":"Simulation","x":21.2,"y":2.23},{"s":"Simulation","x":22.0,"y":2.1},{"s":"Simulation","x":22.5,"y":2.49},{"s":"Simulation","x":23.5,"y":2.73},{"s":"Simulation","x":24.0,"y":2.4},{"s":"Simulation","x":25.6,"y":3.13},{"s":"Simulation","x":26.0,"y":2.6},{"s":"Simulation","x":26.9,"y":3.39},{"s":"Simulation","x":27.8,"y":3.39},{"s":"Simulation","x":28.0,"y":3.0},{"s":"Simulation","x":28.4,"y":1.89},{"s":"Simulation","x":28.6,"y":3.65},{"s":"Simulation","x":28.9,"y":3.19},{"s":"Simulation","x":30.0,"y":3.2},{"s":"Simulation","x":30.9,"y":3.65},{"s":"Simulation","x":31.0,"y":3.3},{"s":"Simulation","x":32.0,"y":3.52},{"s":"Simulation","x":32.6,"y":2.83},{"s":"Simulation","x":33.0,"y":3.4},{"s":"Simulation","x":33.1,"y":4.09},{"s":"Simulation","x":33.6,"y":3.03},{"s":"Simulation","x":34.5,"y":4.13},{"s":"Simulation","x":34.7,"y":3.73},{"s":"Simulation","x":34.7,"y":2.95},{"s":"Simulation","x":35.0,"y":3.5}
      ]},
      "mark": {"type": "point", "stroke": "black", "strokeWidth": 2, "opacity": 1},
      "encoding": {
        "x": {"field": "x", "type": "quantitative", "scale": {"domain": [-40, 40], "nice": false, "zero": false},
          "axis": {"orient": "bottom", "values": [-40, -20, 0, 20, 40], "tickSize": -9, "labelPadding": 21, "title": "Drive Laser Phase (RF–Deg)", "titleY": 51, "titleBaseline": "alphabetic"}},
        "y": {"field": "y", "type": "quantitative", "scale": {"domain": [-6, 6], "nice": false, "zero": false},
          "axis": {"orient": "left", "values": [-6, -4, -2, 0, 2, 4, 6], "tickSize": -9, "labelPadding": 21, "title": "T–O–F. at Pickup Cavity (RF–Deg)", "titleX": -54, "titleBaseline": "alphabetic"}},
        "shape": {"field": "s", "type": "nominal", "scale": {"domain": ["gradient=1.6", "gradient=1.7", "gradient=1.8", "Simulation"], "range": ["circle", "square", "diamond", "square"]},
          "legend": {"title": null, "orient": "none", "legendX": 460, "legendY": 461}},
        "fill": {"field": "s", "type": "nominal", "scale": {"domain": ["gradient=1.6", "gradient=1.7", "gradient=1.8", "Simulation"], "range": ["transparent", "transparent", "transparent", "black"]}, "legend": {"title": null, "orient": "none", "legendX": 460, "legendY": 461}},
        "size": {"field": "s", "type": "nominal", "scale": {"domain": ["gradient=1.6", "gradient=1.7", "gradient=1.8", "Simulation"], "range": [85, 55, 45, 72]}, "legend": {"title": null, "orient": "none", "legendX": 460, "legendY": 461}},
        "strokeDash": {"field": "s", "type": "nominal", "scale": {"domain": ["gradient=1.6", "gradient=1.7", "gradient=1.8", "Simulation"], "range": [[1, 0], [1, 0], [2, 2], [1, 0]]}, "legend": {"title": null, "orient": "none", "legendX": 460, "legendY": 461}}
      }
    },
    {
      "data": {"values": [{"x": 0, "y": 0}]},
      "mark": {"type": "point", "opacity": 0},
      "encoding": {
        "x": {"field": "x", "type": "quantitative", "axis": {"orient": "bottom", "values": [-30, -10, 10, 30], "tickSize": -5, "labels": false, "title": null}},
        "y": {"field": "y", "type": "quantitative", "axis": {"orient": "left", "values": [-5, -3, -1, 1, 3, 5], "tickSize": -5, "labels": false, "title": null}}
      }
    },
    {
      "data": {"values": [{"x": 0, "y": 0}]},
      "mark": {"type": "point", "opacity": 0},
      "encoding": {
        "x": {"field": "x", "type": "quantitative", "axis": {"orient": "top", "values": [-40, -20, 0, 20, 40], "tickSize": -9, "labels": false, "title": null}},
        "y": {"field": "y", "type": "quantitative", "axis": {"orient": "right", "values": [-6, -4, -2, 0, 2, 4, 6], "tickSize": -9, "labels": false, "title": null}}
      }
    },
    {
      "data": {"values": [{"x": 0, "y": 0}]},
      "mark": {"type": "point", "opacity": 0},
      "encoding": {
        "x": {"field": "x", "type": "quantitative", "axis": {"orient": "top", "values": [-30, -10, 10, 30], "tickSize": -5, "labels": false, "title": null}},
        "y": {"field": "y", "type": "quantitative", "axis": {"orient": "right", "values": [-5, -3, -1, 1, 3, 5], "tickSize": -5, "labels": false, "title": null}}
      }
    }
  ]
}
